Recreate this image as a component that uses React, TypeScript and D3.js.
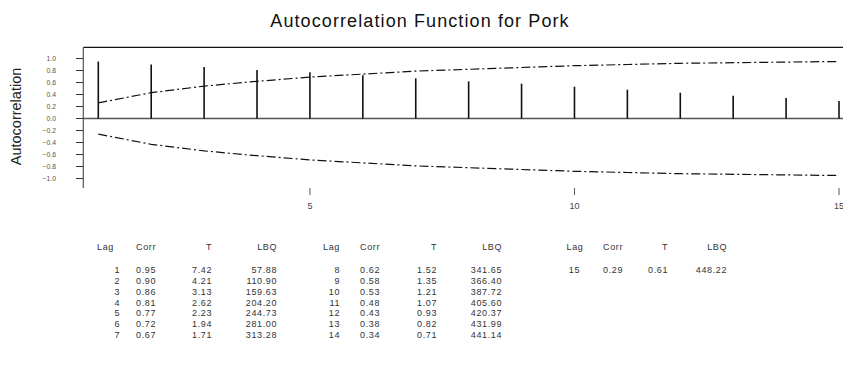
import React from "react";
import * as d3 from "d3";

const lags = [1, 2, 3, 4, 5, 6, 7, 8, 9, 10, 11, 12, 13, 14, 15];
const corr = [0.95, 0.9, 0.86, 0.81, 0.77, 0.72, 0.67, 0.62, 0.58, 0.53, 0.48, 0.43, 0.38, 0.34, 0.29];
const tStat = [7.42, 4.21, 3.13, 2.62, 2.23, 1.94, 1.71, 1.52, 1.35, 1.21, 1.07, 0.93, 0.82, 0.71, 0.61];
const lbq = [57.88, 110.9, 159.63, 204.2, 244.73, 281.0, 313.28, 341.65, 366.4, 387.72, 405.6, 420.37, 431.99, 441.14, 448.22];
const upperLimit = [0.26, 0.43, 0.54, 0.62, 0.69, 0.74, 0.79, 0.82, 0.85, 0.88, 0.9, 0.92, 0.93, 0.94, 0.95];
const lowerLimit = [-0.26, -0.43, -0.54, -0.62, -0.69, -0.74, -0.79, -0.82, -0.85, -0.88, -0.9, -0.92, -0.93, -0.94, -0.95];
const yTicks = [1.0, 0.8, 0.6, 0.4, 0.2, 0.0, -0.2, -0.4, -0.6, -0.8, -1.0];
const xTicks = [5, 10, 15];
const tableGroups = [
  [1, 2, 3, 4, 5, 6, 7],
  [8, 9, 10, 11, 12, 13, 14],
  [15],
];
const tableHeaders = ["Lag", "Corr", "T", "LBQ"];

const W = 843;
const H = 366;
const FONT = "'Liberation Sans', Arial, sans-serif";

export default function App() {
  const x = d3.scaleLinear().domain([1, 15]).range([98.3, 839]);
  const y = d3.scaleLinear().domain([-1, 1]).range([178.5, 58.5]);
  const axisLeft = 83.3;
  const frameTop = 47.3;
  const frameBottom = 188;

  const lineGen = d3
    .line<number>()
    .x((_, i) => x(lags[i]))
    .y((d) => y(d));

  const f2 = d3.format(".2f");
  const f1 = d3.format(".1f");

  const colRight = [
    [120, 156, 212, 277],
    [340, 380, 437, 502],
    [580, 623, 668, 727],
  ];
  const lagHeaderX = [105.5, 331.5, 575];
  const headerY = 250;
  const rowY0 = 273;
  const rowStep = 10.85;

  return (
    <svg
      width={W}
      height={H}
      style={{ position: "absolute", left: 0, top: 0, background: "#fff" }}
      fontFamily={FONT}
    >
      <rect x={0} y={0} width={W} height={H} fill="#fff" />
      <text x={420} y={26.5} textAnchor="middle" fontSize={18} letterSpacing={1.1} fill="#111">
        Autocorrelation Function for Pork
      </text>
      <text transform={`translate(21,116.5) rotate(-90)`} textAnchor="middle" fontSize={14.5} fill="#222">
        Autocorrelation
      </text>

      <line x1={axisLeft} x2={W} y1={frameTop} y2={frameTop} stroke="#111" strokeWidth={1.2} />
      <line x1={axisLeft} x2={axisLeft} y1={frameTop} y2={frameBottom} stroke="#555" strokeWidth={1.2} />

      {yTicks.map((t) => (
        <g key={t}>
          <line x1={76} x2={axisLeft} y1={y(t)} y2={y(t)} stroke="#333" strokeWidth={1} />
          <text x={56} y={y(t)} dy="0.35em" textAnchor="end" fontSize={6.8} fill="#555">
            {f1(t)}
          </text>
        </g>
      ))}

      <line x1={axisLeft} x2={W} y1={y(0)} y2={y(0)} stroke="#555" strokeWidth={1.3} />

      {lags.map((l, i) => (
        <line key={l} x1={x(l)} x2={x(l)} y1={y(0)} y2={y(corr[i])} stroke="#111" strokeWidth={1.6} />
      ))}

      <path d={lineGen(upperLimit) || ""} fill="none" stroke="#111" strokeWidth={1.2} strokeDasharray="9,3,2,3" />
      <path d={lineGen(lowerLimit) || ""} fill="none" stroke="#111" strokeWidth={1.2} strokeDasharray="9,3,2,3" />

      {xTicks.map((t) => (
        <g key={t}>
          <line x1={x(t)} x2={x(t)} y1={frameBottom} y2={195} stroke="#555" strokeWidth={1} />
          <text x={x(t)} y={206} dy="0.35em" textAnchor="middle" fontSize={9} fill="#444">
            {t}
          </text>
        </g>
      ))}

      {tableGroups.map((grp, g) => (
        <g key={g} fontSize={9} letterSpacing={0.6} fill="#333">
          {tableHeaders.map((h, c) => (
            <text
              key={h}
              x={c === 0 ? lagHeaderX[g] : colRight[g][c]}
              y={headerY}
              textAnchor={c === 0 ? "middle" : "end"}
            >
              {h}
            </text>
          ))}
          {grp.map((l, r) => {
            const i = lags.indexOf(l);
            const yy = rowY0 + r * rowStep;
            return (
              <g key={l}>
                <text x={colRight[g][0]} y={yy} textAnchor="end">{l}</text>
                <text x={colRight[g][1]} y={yy} textAnchor="end">{f2(corr[i])}</text>
                <text x={colRight[g][2]} y={yy} textAnchor="end">{f2(tStat[i])}</text>
                <text x={colRight[g][3]} y={yy} textAnchor="end">{f2(lbq[i])}</text>
              </g>
            );
          })}
        </g>
      ))}
    </svg>
  );
}
